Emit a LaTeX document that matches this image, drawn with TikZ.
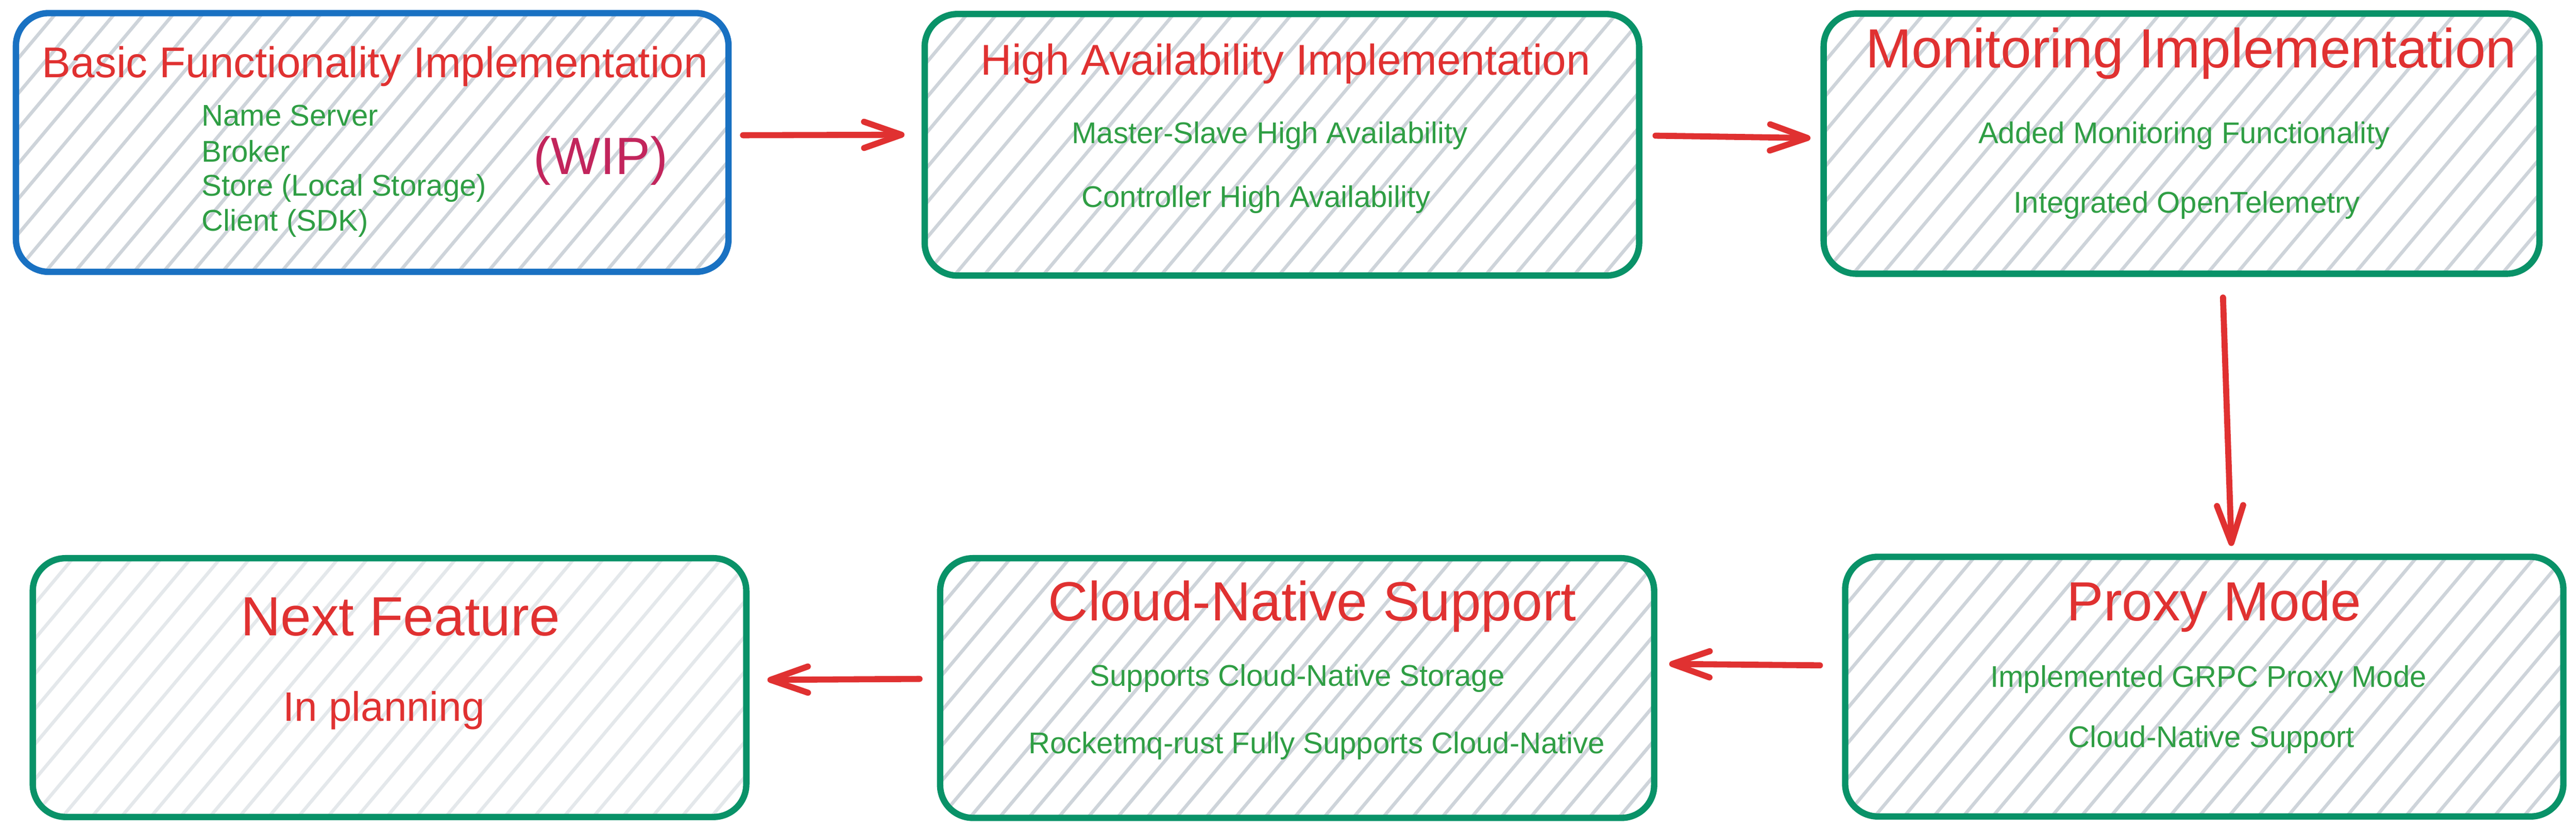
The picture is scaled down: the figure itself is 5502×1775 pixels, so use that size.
\documentclass[tikz,border=0pt]{standalone}
\usepackage{fontspec}
\setmainfont{Liberation Sans}
\usetikzlibrary{arrows.meta,calc}
\definecolor{xred}{HTML}{E03131}
\definecolor{xgreen}{HTML}{2F9E44}
\definecolor{boxgreen}{HTML}{099268}
\definecolor{boxblue}{HTML}{1971C2}
\definecolor{hatchgray}{HTML}{CED4DA}
\definecolor{hatchlight}{HTML}{E4E8EB}
\definecolor{wipred}{HTML}{C2255C}
\begin{document}
\begin{tikzpicture}[x=0.25pt,y=-0.25pt,
  hatch/.style={path picture={
    \foreach \i in {-9,...,26}{
      \draw[#1,line width=1.8pt,line cap=round]
        ([xshift=\i*15.75pt]path picture bounding box.south west) -- ++(50:200pt);
    }}},
  box/.style={draw=#1, line width=3.4pt, rounded corners=17.5pt,
    inner sep=0pt, outer sep=0pt, rectangle},
  ttl/.style={font=\fontsize{23pt}{27pt}\selectfont, text=xred, anchor=base, inner sep=0pt},
  ttlb/.style={font=\fontsize{29.5pt}{34pt}\selectfont, text=xred, anchor=base, inner sep=0pt},
  itm/.style={font=\fontsize{16pt}{19pt}\selectfont, text=xgreen, anchor=base, inner sep=0pt},
  wip/.style={font=\fontsize{28pt}{33pt}\selectfont, text=wipred, anchor=base, inner sep=0pt},
  arr/.style={draw=xred, line width=3.25pt, line cap=round,
    -{Straight Barb[length=20pt,width=14pt,round]}}
]
\useasboundingbox (0,0) rectangle (5502,1775);

% boxes
\node[box=boxblue, hatch=hatchgray, minimum width=380.5pt, minimum height=138.25pt] (b1) at (795,304.5) {};
\node[box=boxgreen, hatch=hatchgray, minimum width=381.5pt, minimum height=139.75pt] (b2) at (2738,309.5) {};
\node[box=boxgreen, hatch=hatchgray, minimum width=382.25pt, minimum height=139pt] (b3) at (4659.5,307) {};
\node[box=boxgreen, hatch=hatchlight, minimum width=381pt, minimum height=138.25pt] (b4) at (832,1469.5) {};
\node[box=boxgreen, hatch=hatchgray, minimum width=381.25pt, minimum height=138.75pt] (b5) at (2770.5,1470.5) {};
\node[box=boxgreen, hatch=hatchgray, minimum width=383.5pt, minimum height=138.75pt] (b6) at (4708,1467.5) {};

% box 1
\node[ttl] (t1) at (801,166) {Basic Functionality Implementation};
\node[itm, anchor=base west] (n1a) at (430,269) {Name Server};
\node[itm, anchor=base west] (n1b) at (430,346) {Broker};
\node[itm, anchor=base west] (n1c) at (430,419) {Store (Local Storage)};
\node[itm, anchor=base west] (n1d) at (430,494) {Client (SDK)};
\node[wip] (w1) at (1283,372) {(WIP)};

% box 2
\node[ttl] (t2) at (2746,160) {High Availability Implementation};
\node[itm] (n2a) at (2712,306) {Master-Slave High Availability};
\node[itm] (n2b) at (2683,443) {Controller High Availability};

% box 3
\node[ttlb] (t3) at (4680,145) {Monitoring Implementation};
\node[itm] (n3a) at (4665,306) {Added Monitoring Functionality};
\node[itm] (n3b) at (4671,455) {Integrated OpenTelemetry};

% box 6
\node[ttlb] (t6) at (4729,1327) {Proxy Mode};
\node[itm] (n6a) at (4717,1468) {Implemented GRPC Proxy Mode};
\node[itm] (n6b) at (4723,1597) {Cloud-Native Support};

% box 5
\node[ttlb] (t5) at (2803,1326) {Cloud-Native Support};
\node[itm] (n5a) at (2771,1466) {Supports Cloud-Native Storage};
\node[itm] (n5b) at (2812,1610) {Rocketmq-rust Fully Supports Cloud-Native};

% box 4
\node[ttlb] (t4) at (855,1358) {Next Feature};
\node[ttl, font=\fontsize{22pt}{26pt}\selectfont] (n4a) at (820,1541) {In planning};

% connectors
\draw[arr] ($(b1.east)+(31,-15.5)$) -- ($(b2.west)+(-43,-21.5)$);
\draw[arr] ($(b2.east)+(35,-19.5)$) -- ($(b3.west)+(-28,-12)$);
\draw[arr] ($(b3.south)+(88.5,51)$) -- ($(b6.north)+(58,-23)$);
\draw[arr] ($(b6.west)+(-54,-45.5)$) -- ($(b5.east)+(32,-51.5)$);
\draw[arr] ($(b5.west)+(-44,-19.5)$) -- ($(b4.east)+(45,-16.5)$);
\end{tikzpicture}
\end{document}
